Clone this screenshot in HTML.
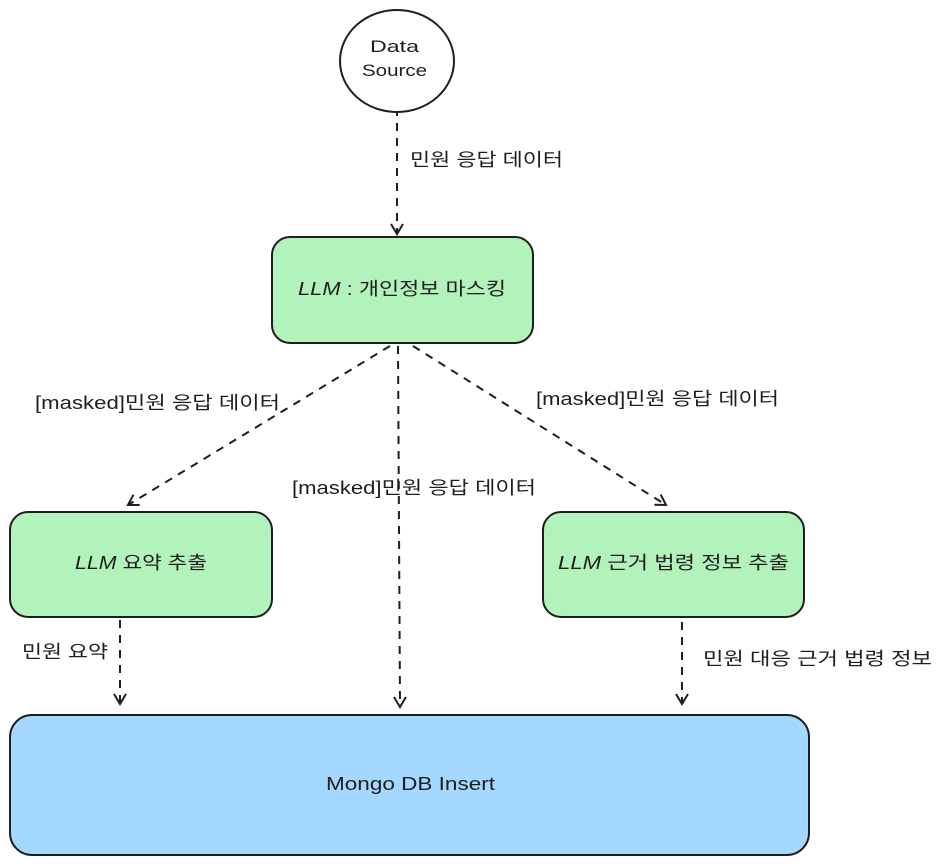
<!DOCTYPE html>
<html><head><meta charset="utf-8"><style>
html,body{margin:0;padding:0;background:#fff;}
svg{display:block;}
text{font-family:"Liberation Sans","Noto Sans CJK KR",sans-serif;fill:#1e1e1e;}
</style></head><body>
<svg width="944" height="864" viewBox="0 0 944 864" xmlns="http://www.w3.org/2000/svg">
<defs>
<marker id="a" markerWidth="14" markerHeight="14" refX="11" refY="7" orient="auto" markerUnits="userSpaceOnUse">
<path d="M1,1 L11,7 L1,13" fill="none" stroke="#1e1e1e" stroke-width="2"/>
</marker>
</defs>
<g fill="none" stroke="#1e1e1e" stroke-width="2" stroke-dasharray="8,7">
<line x1="397" y1="108" x2="397" y2="234" marker-end="url(#a)"/>
<line x1="390" y1="346" x2="128" y2="505" marker-end="url(#a)"/>
<line x1="398" y1="346" x2="400" y2="707" marker-end="url(#a)"/>
<line x1="413" y1="346" x2="666" y2="505" marker-end="url(#a)"/>
<line x1="120" y1="620" x2="120" y2="704" marker-end="url(#a)"/>
<line x1="682" y1="622" x2="682" y2="704" marker-end="url(#a)"/>
</g>
<ellipse cx="397" cy="61" rx="57" ry="51" fill="#fff" stroke="#1e1e1e" stroke-width="2"/>
<g font-size="17" lengthAdjust="spacingAndGlyphs">
<text x="370" y="52" textLength="49" lengthAdjust="spacingAndGlyphs">Data</text>
<text x="362" y="76" textLength="65" lengthAdjust="spacingAndGlyphs">Source</text>
</g>
<rect x="272" y="237" width="261" height="106" rx="18" fill="#b2f2bb" stroke="#1e1e1e" stroke-width="2"/>
<text x="298" y="295" font-size="18" textLength="208" lengthAdjust="spacingAndGlyphs"><tspan font-style="italic">LLM</tspan> : 개인정보 마스킹</text>
<rect x="10" y="512" width="262" height="105" rx="18" fill="#b2f2bb" stroke="#1e1e1e" stroke-width="2"/>
<text x="75" y="569" font-size="18" textLength="132" lengthAdjust="spacingAndGlyphs"><tspan font-style="italic">LLM</tspan> 요약 추출</text>
<rect x="543" y="512" width="261" height="105" rx="18" fill="#b2f2bb" stroke="#1e1e1e" stroke-width="2"/>
<text x="558" y="569" font-size="18" textLength="231" lengthAdjust="spacingAndGlyphs"><tspan font-style="italic">LLM</tspan> 근거 법령 정보 추출</text>
<rect x="10" y="715" width="799" height="140" rx="22" fill="#a5d8ff" stroke="#1e1e1e" stroke-width="2"/>
<text x="326" y="790" font-size="18" textLength="169" lengthAdjust="spacingAndGlyphs">Mongo DB Insert</text>
<g font-size="18">
<text x="410" y="166" textLength="153" lengthAdjust="spacingAndGlyphs">민원 응답 데이터</text>
<text x="35" y="409" textLength="245" lengthAdjust="spacingAndGlyphs">[masked]민원 응답 데이터</text>
<text x="292" y="494" textLength="244" lengthAdjust="spacingAndGlyphs">[masked]민원 응답 데이터</text>
<text x="536" y="405" textLength="243" lengthAdjust="spacingAndGlyphs">[masked]민원 응답 데이터</text>
<text x="22" y="658" textLength="86" lengthAdjust="spacingAndGlyphs">민원 요약</text>
<text x="703" y="665" textLength="229" lengthAdjust="spacingAndGlyphs">민원 대응 근거 법령 정보</text>
</g>
</svg>
</body></html>
